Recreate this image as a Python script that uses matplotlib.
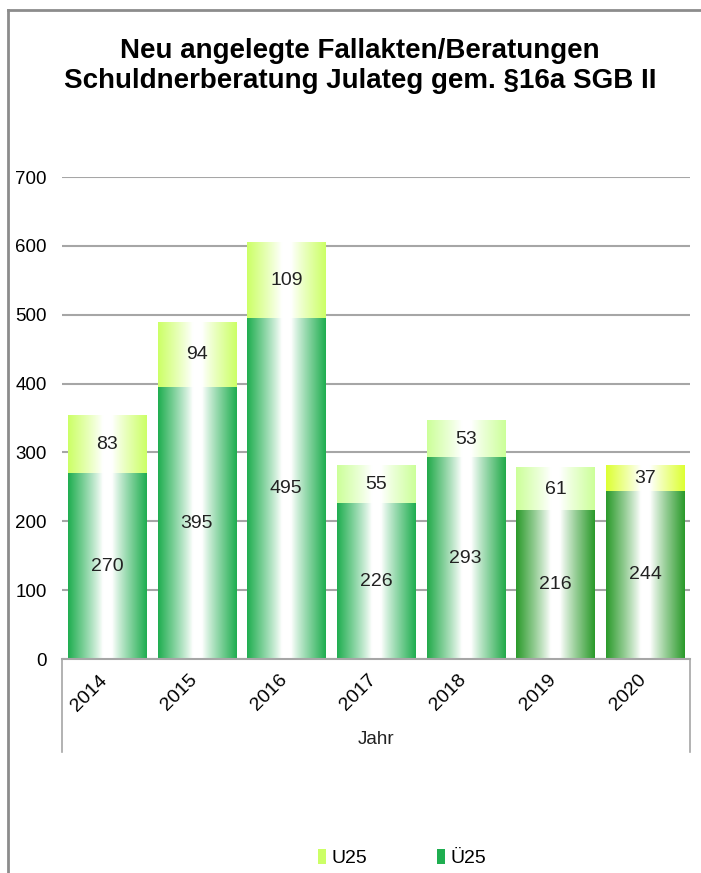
import numpy as np
import matplotlib
matplotlib.use("Agg")
import matplotlib.pyplot as plt
import matplotlib.transforms as mtransforms
from matplotlib.lines import Line2D
from matplotlib.patches import Patch
from matplotlib.colors import to_rgb

# data
years = ["2014", "2015", "2016", "2017", "2018", "2019", "2020"]
ue25 = [270, 395, 495, 226, 293, 216, 244]
u25 = [83, 94, 109, 55, 53, 61, 37]

# styles (edge colours of the gradient per bar)
ue25_cols = ["#1fae50", "#1fae50", "#1fae50", "#1fae50", "#22aa4a", "#2a9a2a", "#2a9a2a"]
u25_cols = ["#ccff66", "#ccff66", "#ccff66", "#ccff99", "#ccff99", "#ccff99", "#ddff33"]

plt.rcParams["font.family"] = ["Liberation Sans", "DejaVu Sans"]

fig = plt.figure(figsize=(7.01, 8.73), dpi=100)
ax = fig.add_axes([62 / 701, 1 - 659 / 873, 628 / 701, 482 / 873])


def gradient_fill(patch, color, n=200):
    # horizontal gradient: colour at the edges, white in the middle
    x0, y0 = patch.get_x(), patch.get_y()
    w, h = patch.get_width(), patch.get_height()
    t = np.abs(np.linspace(0, 1, n) - 0.5) * 2
    m = np.clip((t - 0.12) / 0.88, 0, 1) ** 0.9
    c = np.array(to_rgb(color))
    img = (1 - m[:, None]) * np.ones(3) + m[:, None] * c
    ax.imshow(img[None, :, :], extent=[x0, x0 + w, y0, y0 + h],
              aspect="auto", interpolation="bilinear", zorder=2)


x = np.arange(len(years))
b1 = ax.bar(x, ue25, width=0.87, color="none", zorder=2)
b2 = ax.bar(x, u25, bottom=ue25, width=0.87, color="none", zorder=2)

for p, c in zip(b1, ue25_cols):
    gradient_fill(p, c)
for p, c in zip(b2, u25_cols):
    gradient_fill(p, c)

for i in range(len(years)):
    ax.text(x[i], ue25[i] / 2, str(ue25[i]), ha="center", va="center",
            fontsize=14, color="#222222", zorder=4)
    ax.text(x[i], ue25[i] + u25[i] / 2, str(u25[i]), ha="center", va="center",
            fontsize=14, color="#222222", zorder=4)

ax.set_xlim(-0.5, len(years) - 0.5)
ax.set_ylim(0, 700)
ax.set_yticks(range(0, 701, 100))
ax.yaxis.grid(True, color="#a6a6a6", linewidth=1.5, zorder=0)
ax.set_axisbelow(True)
for s in ["top", "right", "left"]:
    ax.spines[s].set_visible(False)
ax.spines["bottom"].set_color("#a6a6a6")
ax.spines["bottom"].set_linewidth(1.5)
ax.spines["bottom"].set_zorder(3)

ax.set_xticks(x)
ax.set_xticklabels(years, rotation=45, ha="right")
ax.tick_params(axis="x", length=0, pad=9, labelsize=14)
ax.tick_params(axis="y", length=0, pad=11, labelsize=13.5)
# nudge year labels slightly right, like the original
off = mtransforms.ScaledTranslation(4 / 100, 0, fig.dpi_scale_trans)
for lab in ax.get_xticklabels():
    lab.set_transform(lab.get_transform() + off)

# category box below the axis
for xx in [0, 1]:
    ax.plot([xx, xx], [0, -0.193], transform=ax.transAxes, color="#a6a6a6",
            linewidth=1.2, clip_on=False)
ax.text(0.5, -0.168, "Jahr", transform=ax.transAxes, ha="center", va="center",
        fontsize=13.5, color="#222222")

fig.text(360 / 701, 1 - 66 / 873, "Neu angelegte Fallakten/Beratungen\nSchuldnerberatung Julateg gem. §16a SGB II",
         ha="center", va="center", fontsize=20, fontweight="bold", linespacing=1.2)

# outer frame (top and left visible)
fig.add_artist(Line2D([8 / 701, 1], [1 - 10 / 873, 1 - 10 / 873], color="#8c8c8c", linewidth=2))
fig.add_artist(Line2D([8 / 701, 8 / 701], [0, 1 - 10 / 873], color="#8c8c8c", linewidth=2))

handles = [Patch(facecolor=u25_cols[0], label="U25"),
           Patch(facecolor=ue25_cols[0], label="Ü25")]
fig.legend(handles=handles, loc="center", bbox_to_anchor=(0.574, 1 - 858 / 873),
           ncol=2, frameon=False, fontsize=14, handlelength=0.4, handleheight=0.8,
           handletextpad=0.3, columnspacing=3.6)

fig.savefig("out.png", dpi=100)
